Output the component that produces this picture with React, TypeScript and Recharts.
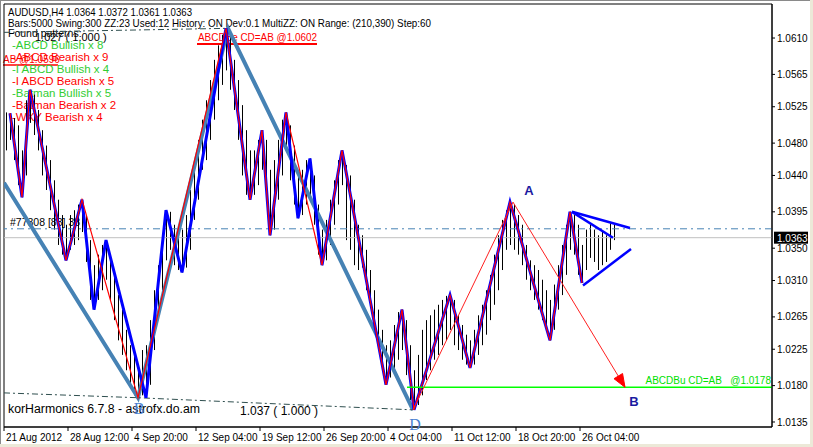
import React from 'react';
import {
  ComposedChart,
  Bar,
  Line,
  XAxis,
  YAxis,
  ReferenceLine,
  ReferenceArea,
  ReferenceDot,
} from 'recharts';

// H4 bars (high / low), one entry per bar
const highs = [
  1.0518, 1.0517, 1.0511, 1.0502, 1.0471, 1.0533, 1.0546, 1.054, 1.0521, 1.0496,
  1.0477, 1.0459, 1.0434, 1.041, 1.0391, 1.0379, 1.0391, 1.0397, 1.0404, 1.041,
  1.0391, 1.036, 1.0329, 1.0342, 1.0354, 1.036, 1.0342, 1.0317, 1.0292, 1.0274,
  1.0249, 1.023, 1.0218, 1.0206, 1.0224, 1.023, 1.0261, 1.0298, 1.0329, 1.036,
  1.0397, 1.0395, 1.0379, 1.0366, 1.0373, 1.0391, 1.0422, 1.0453, 1.0484, 1.0509,
  1.0533, 1.0558, 1.0583, 1.0601, 1.0614, 1.0622, 1.0617, 1.0583, 1.0558, 1.0527,
  1.0496, 1.0471, 1.0471, 1.0484, 1.0496, 1.0484, 1.0447, 1.0459, 1.0484, 1.0509,
  1.0518, 1.0502, 1.0477, 1.044, 1.0447, 1.0459, 1.0461, 1.044, 1.0404, 1.0373,
  1.0385, 1.041, 1.0434, 1.0459, 1.0471, 1.0453, 1.044, 1.041, 1.0379, 1.0366,
  1.0348, 1.0323, 1.0298, 1.0274, 1.0249, 1.023, 1.0236, 1.0255, 1.0271, 1.0274,
  1.0261, 1.023, 1.0199, 1.0218, 1.0249, 1.0261, 1.0267, 1.0274, 1.028, 1.0286,
  1.0291, 1.0292, 1.0286, 1.0267, 1.0255, 1.0243, 1.0236, 1.0249, 1.0267, 1.028,
  1.0298, 1.0317, 1.0342, 1.0366, 1.0385, 1.0397, 1.0407, 1.0404, 1.0391, 1.0379,
  1.0354, 1.0335, 1.0329, 1.0323, 1.0311, 1.0298, 1.0286, 1.0305, 1.0329, 1.0354,
  1.0379, 1.0395, 1.0391, 1.0379, 1.0354, 1.0373, 1.0379, 1.0373, 1.0366, 1.037,
  1.0366, 1.0381, 1.0379,
];
const lows = [
  1.0471, 1.0484, 1.0459, 1.0428, 1.0413, 1.044, 1.0505, 1.049, 1.0471, 1.044,
  1.0422, 1.0397, 1.0373, 1.0354, 1.0342, 1.0335, 1.0348, 1.0354, 1.036, 1.037,
  1.0333, 1.0286, 1.0274, 1.0286, 1.0298, 1.0311, 1.0286, 1.0261, 1.0236, 1.0218,
  1.0199, 1.0181, 1.0168, 1.0165, 1.0168, 1.0165, 1.0181, 1.0224, 1.0261, 1.0298,
  1.0335, 1.0348, 1.0329, 1.0323, 1.032, 1.0326, 1.0348, 1.0385, 1.041, 1.0447,
  1.0459, 1.0484, 1.0509, 1.0533, 1.0552, 1.057, 1.0546, 1.0521, 1.0484, 1.044,
  1.0416, 1.041, 1.0416, 1.0428, 1.0447, 1.041, 1.0366, 1.0373, 1.041, 1.044,
  1.0471, 1.0434, 1.0404, 1.0387, 1.0391, 1.0404, 1.041, 1.0379, 1.0342, 1.0329,
  1.0335, 1.0354, 1.0379, 1.0404, 1.0428, 1.036, 1.0348, 1.0329, 1.0323, 1.0326,
  1.0298, 1.028, 1.0255, 1.0224, 1.0199, 1.0181, 1.019, 1.0199, 1.0212, 1.0224,
  1.0193, 1.0162, 1.015, 1.0156, 1.0168, 1.0187, 1.0199, 1.0212, 1.0218, 1.023,
  1.0236, 1.0249, 1.023, 1.0224, 1.0212, 1.0206, 1.0202, 1.0206, 1.0218, 1.023,
  1.0243, 1.0261, 1.028, 1.0298, 1.0323, 1.0348, 1.0354, 1.0348, 1.0342, 1.0329,
  1.0311, 1.0298, 1.0286, 1.0274, 1.0261, 1.0249, 1.0236, 1.0249, 1.0274, 1.0292,
  1.0317, 1.0348, 1.0342, 1.0317, 1.0307, 1.0323, 1.0338, 1.0333, 1.0323, 1.0329,
  1.0333, 1.0348, 1.036,
];

// swing zigzag (blue) and the coarser zigzag (red)
const zzIdx = [1, 4, 6, 15, 19, 22, 25, 35, 40, 44, 55, 61, 64, 66, 70, 73, 76, 79, 84, 95, 99, 102, 111, 116, 126, 136, 141, 144];
const zzPrice = [1.0517, 1.0413, 1.0546, 1.0335, 1.041, 1.0274, 1.036, 1.0165, 1.0397, 1.032, 1.0622, 1.041, 1.0496, 1.0366, 1.0518, 1.0387, 1.0461, 1.0329, 1.0471, 1.0181, 1.0274, 1.015, 1.0292, 1.0202, 1.0407, 1.0236, 1.0395, 1.0307];
const redIdx = [1, 4, 6, 15, 19, 33, 55, 61, 64, 66, 70, 79, 84, 95, 99, 102, 111, 116, 126, 136, 141, 144];
const redPrice = [1.0517, 1.0413, 1.0546, 1.0335, 1.041, 1.0165, 1.0622, 1.041, 1.0496, 1.0366, 1.0518, 1.0329, 1.0471, 1.0181, 1.0274, 1.015, 1.0292, 1.0202, 1.0407, 1.0236, 1.0395, 1.0307];

// harmonic pattern legs and fib lines
const patIdx = [-0.5, 33, 55.5, 101.75];
const patPrice = [1.0431, 1.0165, 1.0622, 1.015];
const topFibIdx = [-0.5, 55.5];
const topFibPrice = [1.0617, 1.0622];
const botFibIdx = [-0.5, 33, 101.75];
const botFibPrice = [1.0171, 1.0165, 1.015];

// projected ABCD (D -> A -> B)
const arrowIdx = [101.75, 126.75, 154.75];
const arrowPrice = [1.015, 1.0407, 1.0178];
const targetStart = 100.25;
const targetPrice = 1.0178;

// triangle
const triUpIdx = [141.5, 156];
const triUpPrice = [1.0395, 1.0375];
const triMidIdx = [141.5, 151.75];
const triMidPrice = [1.0395, 1.0363];
const triLowIdx = [144.25, 156.25];
const triLowPrice = [1.0304, 1.0349];

const fibLevel = 1.0374;
const bidPrice = 1.0363;

const yMin = 1.01288;
const yMax = 1.06521;
const xMin = -0.5;
const xMax = 191.5;
const yTicks = [1.0135, 1.018, 1.0225, 1.0265, 1.031, 1.035, 1.0395, 1.044, 1.048, 1.0525, 1.0565, 1.061];
const xTicks = [-0.5, 15.5, 31.5, 47.5, 63.5, 79.5, 95.5, 111.5, 127.5, 143.5];
const xLabels = ['21 Aug 2012', '28 Aug 12:00', '4 Sep 20:00', '12 Sep 04:00', '19 Sep 12:00', '26 Sep 20:00', '4 Oct 04:00', '11 Oct 12:00', '18 Oct 20:00', '26 Oct 04:00'];

const legendItems = ['-ABCD Bullish x 8', '-ABCD Bearish x 9', '-I ABCD Bullish x 4', '-I ABCD Bearish x 5', '-Batman Bullish x 5', '-Batman Bearish x 2', '-WXY Bearish x 4'];
const legendColors = ['#32CD32', '#FF0000', '#32CD32', '#FF0000', '#32CD32', '#FF0000', '#FF0000'];

const FONT = 'Liberation Sans, Arial, sans-serif';

const bars = highs.map((h, i) => ({ i, range: [lows[i], h] }));
const pts = (idx: number[], p: number[]) => idx.map((i, k) => ({ i, p: p[k] }));

const OhlcBar = (props: any) => {
  const { x, y, width, height } = props;
  const cx = Math.round(x + width / 2) + 0.5;
  return <line x1={cx} x2={cx} y1={y} y2={y + height} stroke="#000" strokeWidth={1} />;
};

const XTick = (props: any) => {
  const { x, y, payload } = props;
  const k = xTicks.indexOf(payload.value);
  return (
    <text x={x + 2} y={y} dy="0.75em" fontSize={10} fontFamily={FONT} fill="#000" textAnchor="start">
      {xLabels[k]}
    </text>
  );
};

const ArrowDot = (props: any) => {
  const { cx, cy, index, points } = props;
  if (index !== arrowIdx.length - 1) return <g key={`ad${index}`} />;
  let ang = Math.atan2(186, 112);
  if (points && points.length > 1) {
    const p = points[points.length - 2];
    ang = Math.atan2(cy - p.y, cx - p.x);
  }
  const L = 13;
  const W = 5;
  const c = Math.cos(ang);
  const s = Math.sin(ang);
  const bx = cx - L * c;
  const by = cy - L * s;
  return (
    <polygon
      key={`ad${index}`}
      points={`${cx},${cy} ${bx - W * s},${by + W * c} ${bx + W * s},${by - W * c}`}
      fill="#FF0000"
      stroke="#FF0000"
    />
  );
};

const tag = (text: string, dx: number, dy: number, color: string, size: number, family: string, weight = 'normal') => (props: any) => {
  const vb = props.viewBox || {};
  return (
    <text x={(vb.x || 0) + dx} y={(vb.y || 0) + dy} fill={color} fontSize={size} fontFamily={family} fontWeight={weight} textAnchor="middle">
      {text}
    </text>
  );
};

const BidLabel = (props: any) => {
  const vb = props.viewBox || {};
  const x = vb.x + vb.width + 2;
  return (
    <g>
      <rect x={x} y={vb.y - 6} width={34} height={12} fill="#000" />
      <text x={x + 3} y={vb.y + 4} fill="#fff" fontSize={10} fontFamily={FONT}>
        {bidPrice.toFixed(4)}
      </text>
    </g>
  );
};

const TargetLabel = (props: any) => {
  const vb = props.viewBox || {};
  return (
    <text x={vb.x + vb.width - 1} y={vb.y - 3} fill="#00E000" fontSize={10} fontFamily={FONT} textAnchor="end" style={{ whiteSpace: 'pre' }}>
      {`ABCDBu CD=AB   @${targetPrice.toFixed(4)}`}
    </text>
  );
};

export default function App() {
  return (
    <div style={{ position: 'absolute', left: 0, top: 0, width: 813, height: 447, background: '#ECE9D8', overflow: 'hidden' }}>
      <div style={{ position: 'absolute', left: 0, top: 0, width: 810, height: 444, background: '#fff', borderTop: '1px solid #8a8a8a', borderLeft: '1px solid #8a8a8a', boxSizing: 'border-box' }} />
      <svg width={813} height={447} style={{ position: 'absolute', left: 0, top: 0 }}>
        <g fontFamily={FONT} style={{ whiteSpace: 'pre' }}>
          <text x={8} y={16} fontSize={11} fill="#000" textLength={184} lengthAdjust="spacingAndGlyphs">
            {'AUDUSD,H4  1.0364 1.0372 1.0361 1.0363'}
          </text>
          <text x={8} y={26.5} fontSize={11} fill="#000" textLength={423} lengthAdjust="spacingAndGlyphs">
            {'Bars:5000  Swing:300  ZZ:23  Used:12  History: ON Dev:0.1  MultiZZ: ON  Range: (210,390)  Step:60'}
          </text>
          <text x={35} y={41} fontSize={11} fill="#000">1.027 ( 1.000 )</text>
          <text x={3} y={63} fontSize={10} fill="#FF0000">AB @1.0596</text>
          <line x1={3} x2={58} y1={65} y2={65} stroke="#FF0000" strokeWidth={1.5} />
          <text x={8} y={37} fontSize={10.5} fill="#000">Found patterns:</text>
          {legendItems.map((t, k) => (
            <text key={t} x={12} y={49 + 12 * k} fontSize={11.5} fill={legendColors[k]}>
              {t}
            </text>
          ))}
          <text x={198} y={41} fontSize={10.5} fill="#FF0000" textLength={119} lengthAdjust="spacingAndGlyphs">
            {'ABCDBe CD=AB   @1.0602'}
          </text>
          <line x1={197} x2={317} y1={44} y2={44} stroke="#FF0000" strokeWidth={2} />
          <text x={10} y={226} fontSize={10.5} fill="#000">#77308 [83] 38</text>
          <text x={8} y={413} fontSize={12.5} fill="#000" textLength={192} lengthAdjust="spacingAndGlyphs">
            korHarmonics 6.7.8 - astrofx.do.am
          </text>
          <text x={240} y={415} fontSize={12} fill="#000">1.037 ( 1.000 )</text>
        </g>
      </svg>
      <div style={{ position: 'absolute', left: 0, top: 0 }}>
        <ComposedChart width={813} height={447} data={bars} margin={{ top: 4, left: 4, right: 0, bottom: 0 }}>
          <XAxis
            dataKey="i"
            type="number"
            domain={[xMin, xMax]}
            allowDataOverflow
            ticks={xTicks}
            interval={0}
            tick={<XTick />}
            tickSize={4}
            height={20}
            axisLine={{ stroke: '#000' }}
            tickLine={{ stroke: '#000' }}
          />
          <YAxis
            type="number"
            orientation="right"
            domain={[yMin, yMax]}
            allowDataOverflow
            ticks={yTicks}
            interval={0}
            tickFormatter={(v: number) => v.toFixed(4)}
            tick={{ fill: '#000', fontSize: 10, fontFamily: FONT }}
            tickSize={3}
            tickMargin={2}
            width={41}
            axisLine={{ stroke: '#000' }}
            tickLine={{ stroke: '#000' }}
          />
          <ReferenceArea x1={xMin} x2={xMax} y1={yMin} y2={yMax} fill="none" stroke="#000" strokeWidth={1} />
          <ReferenceLine y={bidPrice} stroke="#C0C0C0" strokeWidth={1} label={<BidLabel />} />
          <ReferenceLine y={fibLevel} stroke="#4682B4" strokeWidth={1} strokeDasharray="7 4 2 4" />
          <Bar dataKey="range" barSize={2} shape={<OhlcBar />} isAnimationActive={false} />
          <Line data={pts(patIdx, patPrice)} dataKey="p" stroke="#4682B4" strokeWidth={4} dot={false} isAnimationActive={false} />
          <Line data={pts(topFibIdx, topFibPrice)} dataKey="p" stroke="#2F4F4F" strokeWidth={1} strokeDasharray="6 3 2 3" dot={false} isAnimationActive={false} />
          <Line data={pts(botFibIdx, botFibPrice)} dataKey="p" stroke="#2F4F4F" strokeWidth={1} strokeDasharray="6 3 2 3" dot={false} isAnimationActive={false} />
          <Line data={pts(zzIdx, zzPrice)} dataKey="p" stroke="#0000FF" strokeWidth={3} dot={false} isAnimationActive={false} />
          <Line data={pts(redIdx, redPrice)} dataKey="p" stroke="#FF0000" strokeWidth={1.2} dot={false} isAnimationActive={false} />
          <ReferenceLine
            segment={[{ x: targetStart, y: targetPrice }, { x: xMax, y: targetPrice }]}
            stroke="#00FF00"
            strokeWidth={1.5}
            label={<TargetLabel />}
          />
          <Line data={pts(arrowIdx, arrowPrice)} dataKey="p" stroke="#FF2020" strokeWidth={1} dot={<ArrowDot />} isAnimationActive={false} />
          <Line data={pts(triUpIdx, triUpPrice)} dataKey="p" stroke="#0000FF" strokeWidth={2.5} dot={false} isAnimationActive={false} />
          <Line data={pts(triMidIdx, triMidPrice)} dataKey="p" stroke="#0000FF" strokeWidth={2.5} dot={false} isAnimationActive={false} />
          <Line data={pts(triLowIdx, triLowPrice)} dataKey="p" stroke="#0000FF" strokeWidth={2.5} dot={false} isAnimationActive={false} />
          <ReferenceDot x={arrowIdx[1]} y={arrowPrice[1]} r={0} fill="none" stroke="none" label={tag('A', 16, -7, '#1A1AA0', 13, FONT, 'bold')} />
          <ReferenceDot x={arrowIdx[2]} y={arrowPrice[2]} r={0} fill="none" stroke="none" label={tag('B', 9, 19, '#1A1AA0', 13, FONT, 'bold')} />
          <ReferenceDot x={patIdx[1]} y={patPrice[1]} r={0} fill="none" stroke="none" label={tag('B', 1, 16, '#4A7FD0', 16, 'Liberation Serif, serif')} />
          <ReferenceDot x={patIdx[3]} y={patPrice[3]} r={0} fill="none" stroke="none" label={tag('D', 2, 20, '#4A7FD0', 16, 'Liberation Serif, serif')} />
        </ComposedChart>
      </div>
    </div>
  );
}
